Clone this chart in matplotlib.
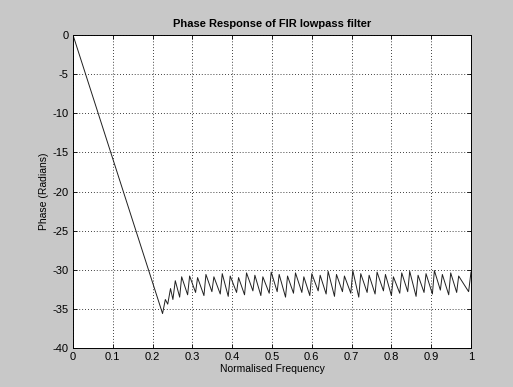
import numpy as np
import matplotlib
matplotlib.use("Agg")
import matplotlib.pyplot as plt

plt.rcParams['font.family'] = ['Liberation Sans', 'DejaVu Sans']
plt.rcParams['axes.unicode_minus'] = False

# passband (linear phase) part
pass_freq = [0.000, 0.225]
pass_phase = [0.0, -35.6]

# first few irregular teeth at the band edge
edge_freq = [0.232, 0.238, 0.245, 0.251, 0.257, 0.268, 0.273]
edge_phase = [-33.8, -34.4, -32.4, -33.8, -31.4, -33.5, -30.9]

# stopband sawtooth: troughs and the peaks that follow them
trough_freq = [0.288, 0.308, 0.329, 0.349, 0.370, 0.390, 0.411, 0.431, 0.452,
               0.472, 0.493, 0.513, 0.534, 0.554, 0.575, 0.595, 0.616, 0.636,
               0.657, 0.677, 0.698, 0.718, 0.739, 0.759, 0.780, 0.800, 0.821,
               0.841, 0.862, 0.882, 0.903, 0.923, 0.944, 0.964, 0.994]
trough_phase = [-33.2, -32.9, -33.3, -32.8, -33.1, -33.4, -32.9, -33.2, -32.7,
                -33.3, -33.0, -32.8, -33.5, -33.0, -32.9, -33.3, -32.7, -33.1,
                -33.4, -32.8, -33.0, -33.5, -32.9, -33.1, -32.7, -33.3, -33.0,
                -32.8, -33.4, -32.9, -33.1, -32.6, -33.2, -32.9, -32.8]
peak_freq = [0.293, 0.313, 0.334, 0.354, 0.375, 0.395, 0.416, 0.436, 0.457,
             0.477, 0.498, 0.518, 0.539, 0.559, 0.580, 0.600, 0.621, 0.641,
             0.662, 0.682, 0.703, 0.723, 0.744, 0.764, 0.785, 0.805, 0.826,
             0.846, 0.867, 0.887, 0.908, 0.928, 0.949, 0.969, 1.000]
peak_phase = [-30.8, -31.0, -30.6, -30.9, -30.5, -30.8, -31.0, -30.4, -30.7,
              -30.9, -30.3, -30.6, -30.8, -30.4, -30.9, -30.5, -30.7, -30.2,
              -30.6, -30.8, -30.1, -30.5, -30.7, -30.3, -30.6, -30.9, -30.4,
              -30.2, -30.7, -30.5, -30.1, -30.6, -30.4, -30.8, -30.3]

saw_f = np.column_stack([trough_freq, peak_freq]).ravel()
saw_p = np.column_stack([trough_phase, peak_phase]).ravel()
freq = np.concatenate([pass_freq, edge_freq, saw_f])
phase = np.concatenate([pass_phase, edge_phase, saw_p])

bg = '#c8c8c8'
fig = plt.figure(figsize=(5.13, 3.87), dpi=100, facecolor=bg)
ax = fig.add_axes([73/513, 39/387, 398/513, 313/387])
ax.set_facecolor('white')

ax.plot(freq, phase, color='#202020', lw=0.7)

ax.set_xlim(0, 1)
ax.set_ylim(-40, 0)
ax.set_xticks(np.arange(0, 1.01, 0.1))
ax.set_xticklabels(['0', '0.1', '0.2', '0.3', '0.4', '0.5', '0.6', '0.7', '0.8', '0.9', '1'])
ax.set_yticks(np.arange(-40, 1, 5))
ax.grid(True, color='black', linestyle=(0, (1, 2.5)), lw=0.6)
ax.tick_params(direction='in', length=3, width=0.6, labelsize=8, top=True, right=True, pad=3)
for s in ax.spines.values():
    s.set_linewidth(0.7)

ax.set_title('Phase Response of FIR lowpass filter', fontsize=8, fontweight='bold', pad=6)
ax.set_xlabel('Normalised Frequency', fontsize=7.5, labelpad=1)
ax.set_ylabel('Phase (Radians)', fontsize=7.5, labelpad=3)

fig.savefig('out.png', dpi=100, facecolor=bg)
